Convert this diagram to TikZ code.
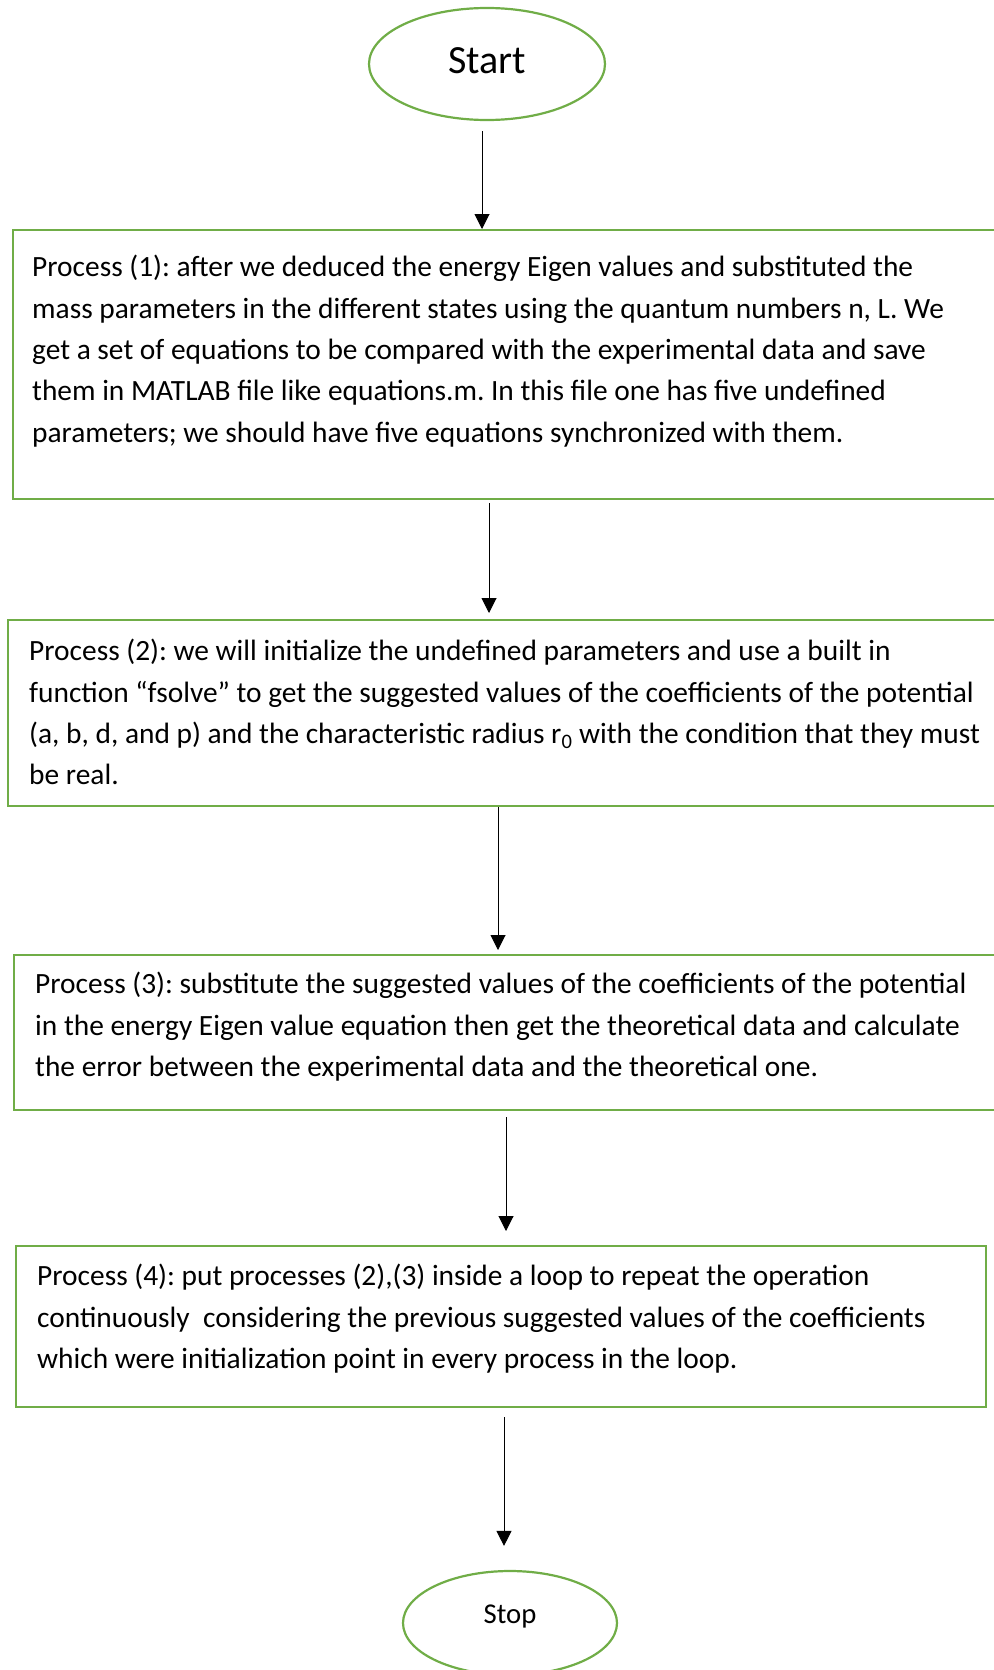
\documentclass[tikz,border=0pt]{standalone}
\usepackage{fontspec}
\setmainfont{Carlito}
\usetikzlibrary{shapes.geometric,arrows.meta}

\definecolor{boxgreen}{RGB}{112,173,71}

\tikzset{
  term/.style={ellipse, draw=boxgreen, line width=2.2pt, inner sep=0pt},
  procbox/.style={draw=boxgreen, line width=2.2pt, anchor=north west, inner sep=0pt},
  proctext/.style={anchor=north west, align=left, inner sep=0pt,
    font=\fontsize{29.4}{41.4}\selectfont\frenchspacing},
  arr/.style={-{Triangle[length=15pt,width=15pt]}, line width=1pt, black}
}

\begin{document}
\begin{tikzpicture}[x=1pt,y=-1pt]

\useasboundingbox (0,0) rectangle (993,1670);

\node[term, minimum width=236, minimum height=112, text depth=6pt, font=\fontsize{40}{48}\selectfont] (start) at (487,64) {Start};

\node[procbox, minimum width=1000, minimum height=269] (p1) at (12,229) {};
\node[proctext] (t1) at ([shift={(20,26)}]p1.north west) {Process (1): after we deduced the energy Eigen values and substituted the\\
mass parameters in the different states using the quantum numbers n, L. We\\
get a set of equations to be compared with the experimental data and save\\
them in MATLAB file like equations.m. In this file one has five undefined\\
parameters; we should have five equations synchronized with them.};

\node[procbox, minimum width=1000, minimum height=186] (p2) at (7,619) {};
\node[proctext] (t2) at ([shift={(22,20)}]p2.north west) {Process (2): we will initialize the undefined parameters and use a built in\\
function “fsolve” to get the suggested values of the coefficients of the potential\\
(a, b, d, and p) and the characteristic radius r\textsubscript{0} with the condition that they must\\
be real.};

\node[procbox, minimum width=1000, minimum height=155] (p3) at (13,954) {};
\node[proctext] (t3) at ([shift={(22,18)}]p3.north west) {Process (3): substitute the suggested values of the coefficients of the potential\\
in the energy Eigen value equation then get the theoretical data and calculate\\
the error between the experimental data and the theoretical one.};

\node[procbox, minimum width=970, minimum height=161] (p4) at (15,1245) {};
\node[proctext] (t4) at ([shift={(22,19)}]p4.north west) {Process (4): put processes (2),(3) inside a loop to repeat the operation\\
continuously~ considering the previous suggested values of the coefficients\\
which were initialization point in every process in the loop.};

\node[term, minimum width=214, minimum height=104, text depth=18pt, font=\fontsize{28.7}{34}\selectfont] (stop) at (510,1623) {Stop};

% arrows
\coordinate (a1) at (482,131);
\coordinate (a2) at (489,503);
\coordinate (a3) at (498,807);
\coordinate (a4) at (506,1117);
\coordinate (a5) at (504,1417);
\draw[arr] (a1) -- (a1 |- p1.north);
\draw[arr, shorten >=6pt] (a2) -- (a2 |- p2.north);
\draw[arr, shorten >=4pt] (a3) -- (a3 |- p3.north);
\draw[arr, shorten >=14pt] (a4) -- (a4 |- p4.north);
\draw[arr, shorten >=24pt] (a5) -- (a5 |- stop.north);

\end{tikzpicture}
\end{document}
